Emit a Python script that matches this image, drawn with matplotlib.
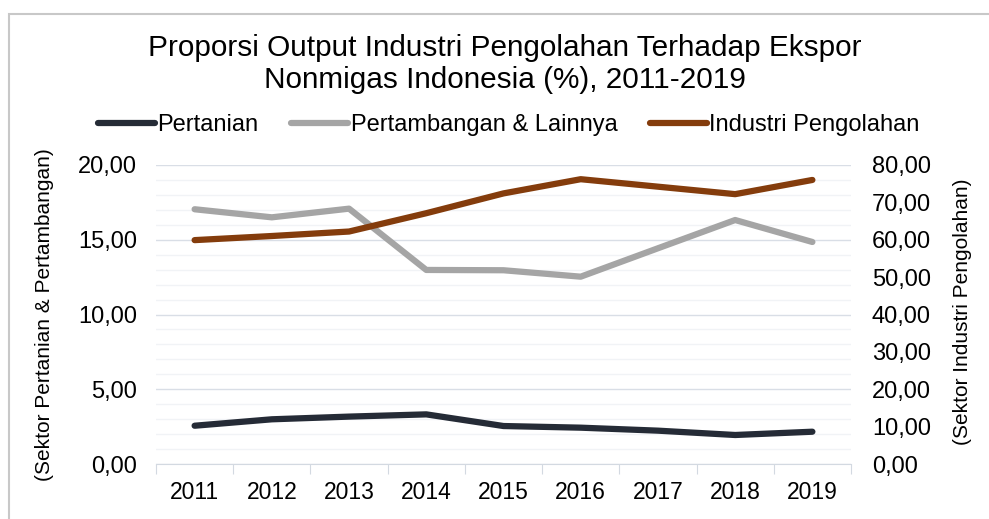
import matplotlib.pyplot as plt
import matplotlib.patches as patches
import numpy as np

plt.rcParams['font.family'] = ['Liberation Sans', 'DejaVu Sans']

years = ['2011', '2012', '2013', '2014', '2015', '2016', '2017', '2018', '2019']
pertanian = [2.56, 2.99, 3.17, 3.32, 2.54, 2.43, 2.23, 1.94, 2.16]
pertambangan = [17.04, 16.50, 17.08, 12.98, 12.96, 12.53, 14.43, 16.32, 14.85]
industri = [59.9, 61.0, 62.2, 67.1, 72.4, 76.2, 74.2, 72.2, 76.0]

W, H = 989, 519
fig = plt.figure(figsize=(W / 100, H / 100), dpi=100)

# chart border (cropped on the right and bottom)
fig.patches.append(patches.Rectangle((9 / W, -0.1), 1.2, (H - 14) / H + 0.1,
                                     transform=fig.transFigure, fill=False,
                                     edgecolor='#C8C8C8', lw=1.5))

ax = fig.add_axes([156 / W, (H - 464) / H, (851 - 156) / W, (464 - 165) / H])
x = np.arange(len(years))

ax.set_xlim(-0.5, len(years) - 0.5)
ax.set_ylim(0, 20)
ax.set_yticks(np.arange(0, 20.1, 5))
ax.set_yticks(np.arange(0, 20.1, 1), minor=True)
ax.set_yticklabels([f'{v:.2f}'.replace('.', ',') for v in np.arange(0, 20.1, 5)])
ax.grid(axis='y', which='major', color='#D9DEE6', lw=1)
ax.grid(axis='y', which='minor', color='#F1F3F6', lw=1)
ax.set_axisbelow(True)
for s in ['top', 'right', 'left']:
    ax.spines[s].set_visible(False)
ax.spines['bottom'].set_color('#D3D9E1')
ax.tick_params(axis='y', which='both', length=0, labelsize=17, pad=13.5)

# category boundaries as ticks, labels at centers
ax.set_xticks(np.arange(-0.5, len(years), 1))
ax.set_xticklabels([])
ax.set_xticks(x, minor=True)
ax.set_xticklabels(years, minor=True)
ax.tick_params(axis='x', which='major', length=7, color='#D3D9E1')
ax.tick_params(axis='x', which='minor', length=0, labelsize=16.5, pad=12)

l1, = ax.plot(x, pertanian, color='#252B36', lw=4.5, solid_capstyle='round',
              label='Pertanian')
l2, = ax.plot(x, pertambangan, color='#A5A5A5', lw=4.5, solid_capstyle='round',
              label='Pertambangan & Lainnya')

ax2 = ax.twinx()
ax2.set_ylim(0, 80)
ax2.set_yticks(np.arange(0, 80.1, 10))
ax2.set_yticklabels([f'{v:.2f}'.replace('.', ',') for v in np.arange(0, 80.1, 10)])
for s in ['top', 'right', 'left', 'bottom']:
    ax2.spines[s].set_visible(False)
ax2.tick_params(axis='y', length=0, labelsize=17, pad=15)
l3, = ax2.plot(x, industri, color='#843C0C', lw=4.5, solid_capstyle='round',
               label='Industri Pengolahan')

fig.text(505 / W, 1 - 64 / H,
         'Proporsi Output Industri Pengolahan Terhadap Ekspor\nNonmigas Indonesia (%), 2011-2019',
         ha='center', va='center', fontsize=21.4, linespacing=1.15)

fig.legend(handles=[l1, l2, l3], loc='center', bbox_to_anchor=(509 / W, 1 - 125 / H),
           ncol=3, frameon=False, fontsize=17, handlelength=2.4,
           handletextpad=0.1, columnspacing=1.4)

fig.text(45 / W, 1 - 315 / H, '(Sektor Pertanian & Pertambangan)', rotation=90,
         ha='center', va='center', fontsize=15)
fig.text(962 / W, 1 - 312 / H, '(Sektor Industri Pengolahan)', rotation=90,
         ha='center', va='center', fontsize=15)

fig.savefig('out.png', dpi=100)
